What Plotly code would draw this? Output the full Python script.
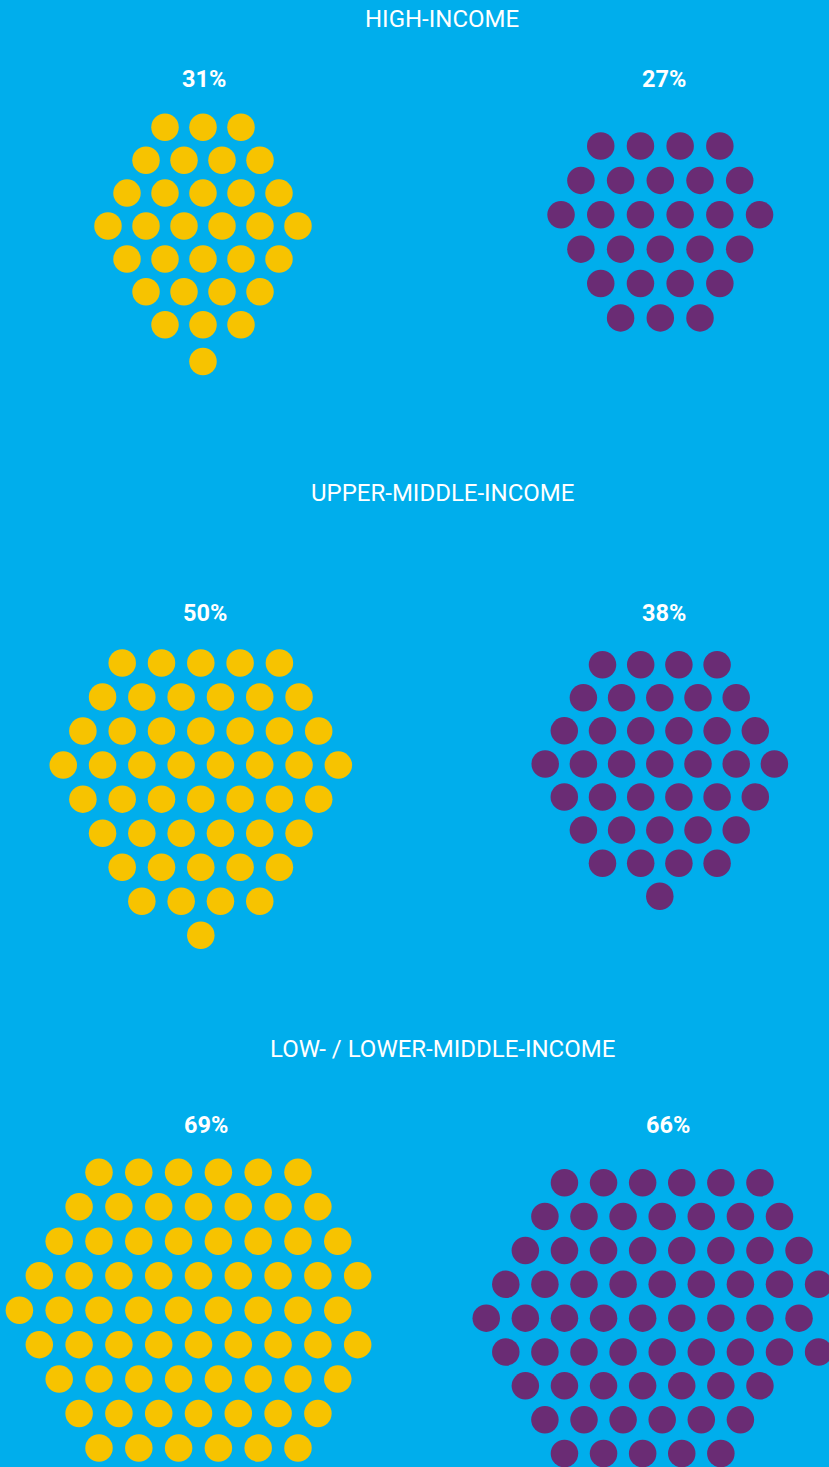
import plotly.graph_objects as go

# ---- data ----
groups = ["HIGH-INCOME", "UPPER-MIDDLE-INCOME", "LOW- / LOWER-MIDDLE-INCOME"]
yellow_pct = [31, 50, 69]
purple_pct = [27, 38, 66]
# dots per row (top to bottom) as drawn in each cluster
yellow_rows = [
    [3, 4, 5, 6, 5, 4, 3, 1],
    [5, 6, 7, 8, 7, 6, 5, 4, 1],
    [6, 7, 8, 9, 9, 9, 8, 7, 6],
]
purple_rows = [
    [4, 5, 6, 5, 4, 3],
    [4, 5, 6, 7, 6, 5, 4, 1],
    [6, 7, 8, 9, 9, 9, 7, 6, 5],
]

# ---- layout / style ----
W, H = 829, 1467
BG = "#00AEEC"
YELLOW = "#F7C300"
PURPLE = "#6A2C74"
DOT = 27.5

# cluster placement: (center x, top row y, spacing)
yellow_place = [(203, 127.3, 38.0), (200.8, 663, 39.3), (198.5, 1172.3, 39.8)]
purple_place = [(660.3, 146, 39.7), (659.8, 664.7, 38.2), (662.2, 1182.7, 39.1)]
title_y = [19, 493, 1049]
label_y = [79, 613, 1125]
yellow_label_x = [204, 205, 205.5]
purple_label_x = [664, 663.5, 668]


def hex_layout(rows, cx, y0, dx):
    dy = dx * 0.866
    xs, ys = [], []
    base_half = rows[0] % 2 == 0  # first row on half-integer lattice
    y = y0
    for r, n in enumerate(rows):
        lattice_half = base_half if r % 2 == 0 else not base_half
        row_half = n % 2 == 0
        offs = [k - (n - 1) / 2 for k in range(n)]
        if r > 0:
            if row_half != lattice_half and n == 1:
                # lone dot dropped straight below the centre
                y += dx * 0.965
            else:
                y += dy
        if row_half != lattice_half and n > 1:
            offs = [o - 0.5 for o in offs]
        for o in offs:
            xs.append(cx + o * dx)
            ys.append(y)
    return xs, ys


fig = go.Figure()
for i in range(3):
    for rows, place, col in ((yellow_rows[i], yellow_place[i], YELLOW),
                             (purple_rows[i], purple_place[i], PURPLE)):
        xs, ys = hex_layout(rows, *place)
        fig.add_trace(go.Scatter(
            x=xs, y=ys, mode="markers",
            marker=dict(size=DOT, color=col, line=dict(width=0)),
            hoverinfo="skip", showlegend=False,
        ))

annotations = []
for i in range(3):
    annotations.append(dict(
        x=442, y=title_y[i], text=groups[i], showarrow=False,
        xanchor="center", yanchor="middle",
        font=dict(family="Roboto", size=24, color="white"),
    ))
    for lx, pct in ((yellow_label_x[i], yellow_pct[i]), (purple_label_x[i], purple_pct[i])):
        annotations.append(dict(
            x=lx, y=label_y[i], text=f"<b>{pct}%</b>",
            showarrow=False, xanchor="center", yanchor="middle",
            font=dict(family="Roboto", size=23.5, color="white"),
        ))

fig.update_layout(
    width=W, height=H,
    margin=dict(l=0, r=0, t=0, b=0),
    paper_bgcolor=BG, plot_bgcolor=BG,
    xaxis=dict(range=[0, W], visible=False, fixedrange=True),
    yaxis=dict(range=[H, 0], visible=False, fixedrange=True),
    annotations=annotations,
)
fig.write_html(
    "out.html",
    config={"displayModeBar": False},
    post_script=(
        "document.body.style.margin='0';"
        "document.body.style.padding='0';"
        "document.body.style.overflow='hidden';"
        "document.body.style.background='" + BG + "';"
    ),
)
